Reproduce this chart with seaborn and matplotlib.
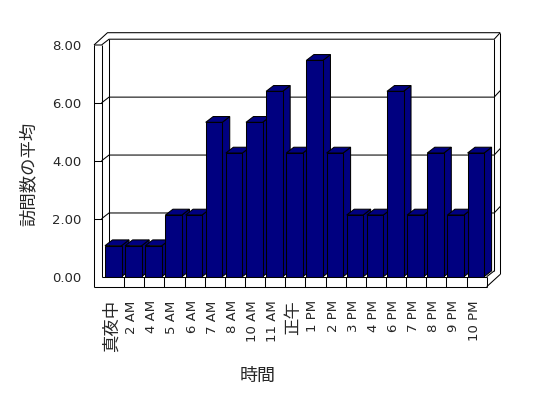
import matplotlib
matplotlib.use("Agg")
import matplotlib.pyplot as plt
import matplotlib.transforms as mtransforms
from matplotlib.patches import Polygon
from matplotlib.lines import Line2D
import seaborn as sns
import pandas as pd

# data
hours = ["真夜中", "2 AM", "4 AM", "5 AM", "6 AM", "7 AM", "8 AM", "10 AM", "11 AM", "正午",
         "1 PM", "2 PM", "3 PM", "4 PM", "6 PM", "7 PM", "8 PM", "9 PM", "10 PM"]
visits = [1.07, 1.07, 1.07, 2.13, 2.13, 5.33, 4.27, 5.33, 6.40, 4.27,
          7.47, 4.27, 2.13, 2.13, 6.40, 2.13, 4.27, 2.13, 4.27]
yticks = [0, 2, 4, 6, 8]
x_title = "時間"
y_title = "訪問数の平均"

NAVY = "#000080"
CJK = "Noto Sans CJK JP"
LW = 0.75
DEPTH = (7.5, 5.8)   # pixel offset of the back plane
THICK = (6.0, 6.5)   # wall thickness, pixels
FLOOR = 10.0         # floor slab height, pixels
WALL_IN, WALL_OUT = -2.5, -10.0

sns.set_style("white")
plt.rcParams["font.family"] = ["DejaVu Sans", CJK]

fig = plt.figure(figsize=(5.48, 3.98), dpi=100)
ax = fig.add_axes([104 / 548, 121.3 / 398, 382.7 / 548, 231.7 / 398])
df = pd.DataFrame({"hour": hours, "visits": visits})
sns.barplot(data=df, x="hour", y="visits", order=hours, color=NAVY, saturation=1,
            width=0.82, edgecolor="black", linewidth=LW, ax=ax)

n = len(hours)
xl, xr = -0.5, n - 0.5
ymax = yticks[-1]
ax.set_xlim(xl, xr)
ax.set_ylim(0, ymax)
ax.set_facecolor("none")
ax.grid(False)
for s in ax.spines.values():
    s.set_visible(False)

# pixels -> data units
pos = ax.get_position()
sx = (xr - xl) / (pos.width * fig.bbox.width)
sy = ymax / (pos.height * fig.bbox.height)


def P(x, y, ox=0.0, oy=0.0):
    return (x + ox * sx, y + oy * sy)


def line(pts, z):
    ax.add_line(Line2D([p[0] for p in pts], [p[1] for p in pts], color="black", lw=LW,
                       zorder=z, clip_on=False, solid_capstyle="butt"))


dx, dy = DEPTH
tx, ty = THICK

# back wall, gridlines
for v in yticks[1:-1]:
    line([P(xl, v, WALL_IN, 0), P(xl, v, WALL_IN + dx, dy), P(xr, v, dx, dy),
          P(xr, v, dx + tx, dy + ty)], 1)
    line([P(xl, v, WALL_OUT, 0), P(xl, v, WALL_IN, 0)], 5)
line([P(xl, 0, WALL_IN + dx, dy), P(xl, ymax, WALL_IN + dx, dy)], 1)
line([P(xr, 0, dx, dy), P(xr, ymax, dx, dy)], 1)
line([P(xr, 0, dx + tx, dy + ty - FLOOR), P(xr, ymax, dx + tx, dy + ty)], 1)
line([P(xl, ymax, WALL_OUT, 0), P(xl, ymax, WALL_IN, 0), P(xl, ymax, WALL_IN + dx, dy),
      P(xr, ymax, dx, dy), P(xr, ymax, dx + tx, dy + ty)], 1)
line([P(xl, ymax, WALL_OUT, 0), P(xl, ymax, WALL_OUT + dx + tx, dy + ty),
      P(xr, ymax, dx + tx, dy + ty)], 1)

# left wall front and floor slab
line([P(xl, 0, WALL_OUT, -FLOOR), P(xl, ymax, WALL_OUT, 0)], 5)
line([P(xl, 0, WALL_IN, 0), P(xl, ymax, WALL_IN, 0)], 5)
line([P(xl, 0, WALL_IN, 0), P(xr, 0)], 5)
line([P(xl, 0, WALL_OUT, -FLOOR), P(xr, 0, 0, -FLOOR)], 5)
line([P(xr, 0), P(xr, 0, 0, -FLOOR)], 5)
line([P(xr, 0), P(xr, 0, dx, dy)], 5)
line([P(xr, 0, 0, -FLOOR), P(xr, 0, dx + tx, dy + ty - FLOOR)], 5)
for k in range(n - 1):
    line([P(k + 0.5, 0), P(k + 0.5, 0, 0, -FLOOR)], 5)

# 3d sides and tops of the bars
for i, p in enumerate(ax.patches):
    x0 = p.get_x() - 0.04
    p.set_x(x0)
    w, h = p.get_width(), p.get_height()
    x1 = x0 + w
    z = 3 + i * 0.01
    p.set_zorder(z + 0.005)
    side = Polygon([P(x1, 0), P(x1, h), P(x1, h, dx, dy), P(x1, 0, dx, dy)],
                   fc=NAVY, ec="black", lw=LW, zorder=z, clip_on=False)
    top = Polygon([P(x0, h), P(x1, h), P(x1, h, dx, dy), P(x0, h, dx, dy)],
                  fc=NAVY, ec="black", lw=LW, zorder=z, clip_on=False)
    ax.add_patch(side)
    ax.add_patch(top)

# ticks and labels
ax.set_yticks(yticks)
ax.set_yticklabels([f"{v:.2f}" for v in yticks])
ax.tick_params(axis="y", length=0, pad=16, labelsize=9.5)
ax.set_xticks(range(n))
ax.set_xticklabels(hours, rotation=90)
ax.tick_params(axis="x", length=0, pad=17, labelsize=9.5)
shift = mtransforms.ScaledTranslation(-2.5 / 100, 0, fig.dpi_scale_trans)
for lbl in ax.get_xticklabels():
    lbl.set_transform(lbl.get_transform() + shift)
    if not any(c.isascii() for c in lbl.get_text()):
        lbl.set_fontsize(12.5)
        lbl.set_family(CJK)

ax.set_xlabel(x_title, fontsize=13, family=CJK)
ax.xaxis.set_label_coords(0.4024, -0.39)
ax.set_ylabel(y_title, fontsize=12.5, family=CJK)
ax.yaxis.set_label_coords(-0.172, 0.442)

fig.savefig("out.png", dpi=100)
